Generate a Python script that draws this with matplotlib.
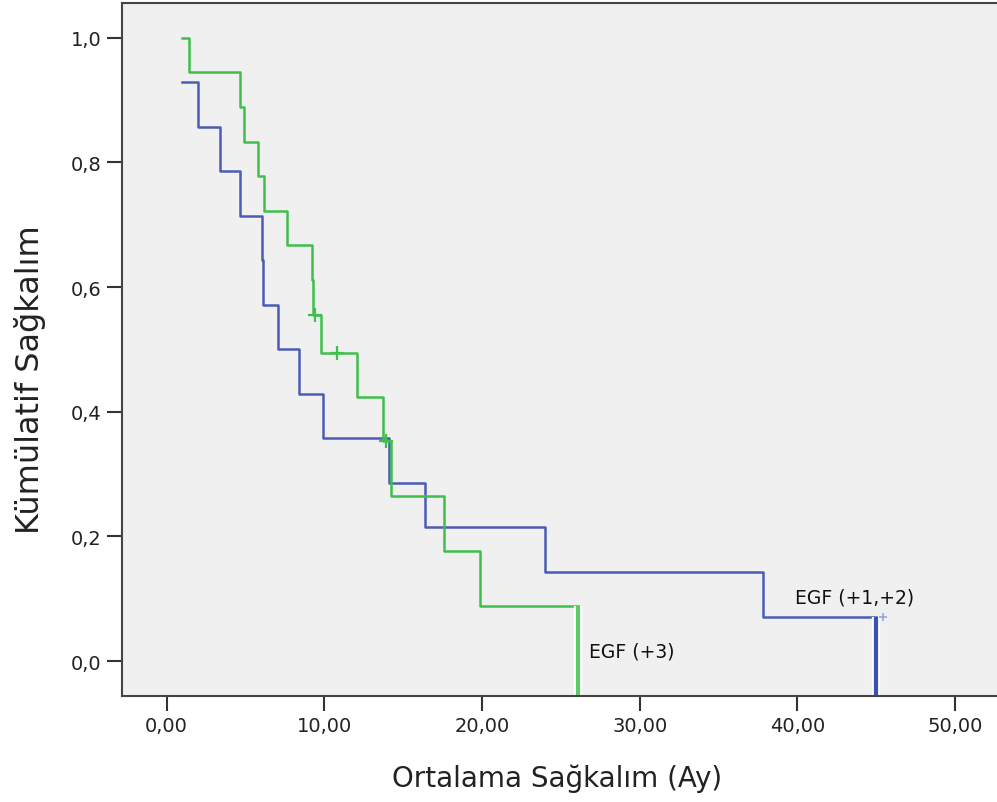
import matplotlib.pyplot as plt
import matplotlib.patheffects as pe

# Kaplan-Meier steps (time in months, survival after the step)
blue_times = [1.0, 2.0, 3.4, 4.65, 6.05, 6.1, 7.05, 8.4, 9.9, 14.1, 16.4, 24.0, 37.8, 45.0]
blue_surv = [0.9286, 0.8571, 0.7857, 0.7143, 0.6429, 0.5714, 0.5000, 0.4286,
             0.3571, 0.2857, 0.2143, 0.1429, 0.0714, 0.0714]
blue_cens_t = [45.4]
blue_cens_s = [0.0714]

green_times = [1.0, 1.4, 4.65, 4.9, 5.8, 6.15, 7.65, 9.2, 9.3, 9.8, 12.1, 13.7,
               14.25, 17.6, 19.9, 26.1]
green_surv = [1.0, 0.9444, 0.8889, 0.8333, 0.7778, 0.7222, 0.6667, 0.6111, 0.5556,
              0.4938, 0.4232, 0.3527, 0.2645, 0.1763, 0.0882, 0.0882]
green_cens_t = [9.4, 10.8, 13.9]
green_cens_s = [0.5556, 0.4938, 0.3527]

x_ticks = [0, 10, 20, 30, 40, 50]
x_labels = ['0,00', '10,00', '20,00', '30,00', '40,00', '50,00']
y_ticks = [0.0, 0.2, 0.4, 0.6, 0.8, 1.0]
y_labels = ['0,0', '0,2', '0,4', '0,6', '0,8', '1,0']

blue = '#4a5db5'
green = '#3fc04c'

fig = plt.figure(figsize=(9.97, 8.03), dpi=100)
ax = fig.add_axes([122 / 997, 1 - 697 / 803, 875 / 997, 693 / 803])
ax.set_facecolor('#f0f0f0')
ax.set_xlim(-2.83, 52.65)
ax.set_ylim(-0.0561, 1.0556)
ybot = ax.get_ylim()[0]

ax.step(blue_times, blue_surv, where='post', color=blue, lw=1.8)
ax.step(green_times, green_surv, where='post', color=green, lw=1.8)

# terminal drops, drawn thick down to the axis floor
halo = [pe.Stroke(linewidth=6, foreground='white'), pe.Normal()]
ax.vlines(blue_times[-1], ybot, blue_surv[-1], color='#3c52b0', lw=3, path_effects=halo)
ax.vlines(green_times[-1], ybot, green_surv[-1], color='#5acb66', lw=3, path_effects=halo)

ax.plot(green_cens_t, green_cens_s, '+', color=green, ms=10, mew=1.6)
ax.plot(blue_cens_t, blue_cens_s, '+', color='#9aa6d8', ms=6, mew=1.2)

ax.text(green_times[-1] + 0.7, 0.016, 'EGF (+3)', fontsize=13.5, va='center', ha='left',
        color='#111111')
ax.text(43.6, 0.103, 'EGF (+1,+2)', fontsize=13.5, va='center', ha='center',
        color='#111111')

ax.set_xticks(x_ticks)
ax.set_xticklabels(x_labels)
ax.set_yticks(y_ticks)
ax.set_yticklabels(y_labels)
ax.tick_params(length=11, width=1.5, labelsize=14, colors='#333333', labelcolor='#222222')
for side in ['left', 'bottom', 'top']:
    ax.spines[side].set_color('#444444')
    ax.spines[side].set_linewidth(1.5)
ax.spines['right'].set_visible(False)

fig.text(557 / 997, 1 - 779 / 803, 'Ortalama Sağkalım (Ay)', fontsize=20,
         color='#222222', ha='center', va='center')
fig.text(30 / 997, 1 - 380 / 803, 'Kümülatif Sağkalım', fontsize=23, rotation=90,
         color='#222222', ha='center', va='center')

fig.savefig('out.png', dpi=100, facecolor='white')
